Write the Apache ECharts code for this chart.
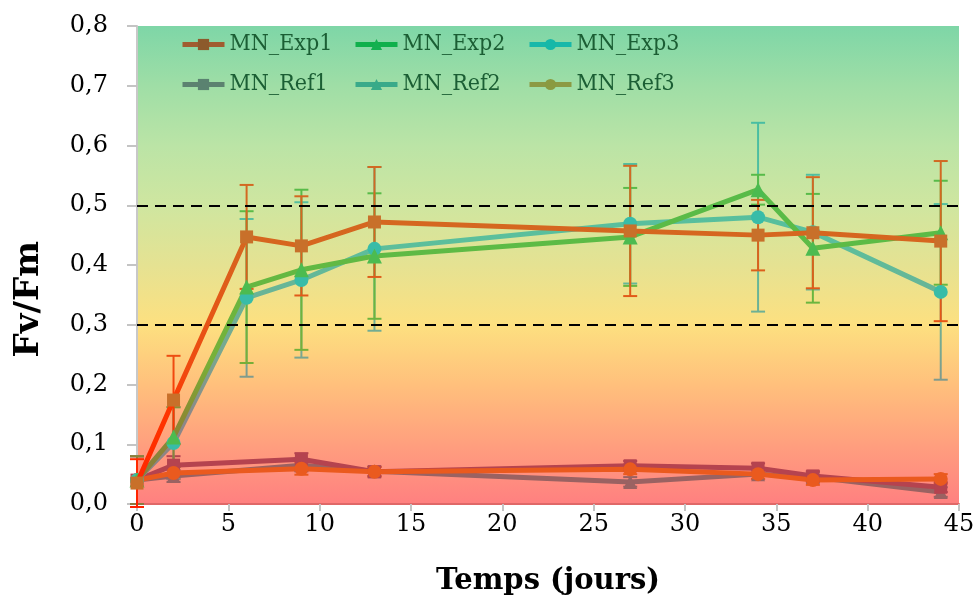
<!DOCTYPE html>
<html><head><meta charset="utf-8">
<script src="https://cdn.jsdelivr.net/npm/echarts@6/dist/echarts.min.js"></script>
<style>html,body{margin:0;padding:0;background:#fff}#c{width:979px;height:601px}</style>
</head><body><div id="c"></div>
<script>
// ---- data ----
const days = [0, 2, 6, 9, 13, 27, 34, 37, 44];
const refDays = [0, 2, 9, 13, 27, 34, 37, 44];
const exp1 = [0.035, 0.174, 0.447, 0.432, 0.472, 0.457, 0.450, 0.454, 0.440];
const exp1Err = [0.04, 0.074, 0.087, 0.083, 0.092, 0.109, 0.059, 0.093, 0.134];
const exp2 = [0.040, 0.112, 0.363, 0.392, 0.415, 0.447, 0.526, 0.428, 0.454];
const exp2Err = [0.04, 0.05, 0.127, 0.134, 0.105, 0.082, 0.025, 0.091, 0.087];
const exp3 = [0.040, 0.102, 0.345, 0.375, 0.427, 0.469, 0.480, 0.455, 0.355];
const exp3Err = [0.04, 0.06, 0.132, 0.130, 0.137, 0.100, 0.158, 0.096, 0.147];
const ref1 = [0.040, 0.065, 0.075, 0.054, 0.064, 0.060, 0.047, 0.028];
const ref1Err = [0.04, 0.015, 0.01, 0.008, 0.008, 0.008, 0.008, 0.008];
const ref2 = [0.040, 0.047, 0.065, 0.055, 0.037, 0.050, 0.045, 0.020];
const ref2Err = [0.04, 0.01, 0.01, 0.008, 0.008, 0.008, 0.008, 0.008];
const ref3 = [0.040, 0.052, 0.059, 0.054, 0.058, 0.050, 0.040, 0.042];
const ref3Err = [0.04, 0.01, 0.01, 0.008, 0.008, 0.008, 0.008, 0.008];
const yTicks = ['0,0','0,1','0,2','0,3','0,4','0,5','0,6','0,7','0,8'];
const thresholds = [0.5, 0.305];
const names = ['MN_Exp1','MN_Exp2','MN_Exp3','MN_Ref1','MN_Ref2','MN_Ref3'];
const yTitle = 'Fv/Fm';
const xTitle = 'Temps (jours)';

// ---- styling ----
function vgrad(stops){
  return {type:'linear', x:0, y:26, x2:0, y2:504, global:true,
    colorStops: stops.map(s=>({offset:s[0], color:s[1]}))};
}
const cExp1 = vgrad([[0,'#c8702a'],[0.45,'#d6661f'],[0.72,'#f04a10'],[0.8,'#ff3600'],[1,'#ff2200']]);
const cExp2 = vgrad([[0,'#4cbb50'],[0.45,'#5cbb46'],[0.7,'#78b038'],[0.82,'#8a8a32'],[1,'#8a7a40']]);
const cExp3 = vgrad([[0,'#38bca8'],[0.45,'#5bbf9c'],[0.68,'#78a890'],[0.82,'#8c8888'],[1,'#8a8080']]);
const cRef1 = '#b5434f', cRef2 = '#9a6262', cRef3 = '#ea5a1e';

const legendColors = {
  'MN_Exp1':['#8c5a2c','#a05c30'], 'MN_Exp2':['#14b050','#10b04c'], 'MN_Exp3':['#16b8a8','#18b8aa'],
  'MN_Ref1':['#5a8270','#5c8270'], 'MN_Ref2':['#38aa88','#3aaa8a'], 'MN_Ref3':['#8a9a40','#8c9a44']
};

function pairs(xs, ys){ return xs.map((x,i)=>[x, ys[i]]); }
function errData(xs, ys, es){ return xs.map((x,i)=>[x, ys[i]-es[i], ys[i]+es[i]]); }

function errSeries(xs, ys, es, color, z){
  return {
    type:'custom', silent:true, z:z, legendHoverLink:false,
    data: errData(xs, ys, es),
    renderItem: function(params, api){
      const x = api.value(0);
      const lo = api.coord([x, api.value(1)]);
      const hi = api.coord([x, api.value(2)]);
      const w = 7;
      const st = {stroke: color, lineWidth: 2};
      return {type:'group', children:[
        {type:'line', shape:{x1:lo[0], y1:lo[1], x2:hi[0], y2:hi[1]}, style:st},
        {type:'line', shape:{x1:lo[0]-w, y1:lo[1], x2:lo[0]+w, y2:lo[1]}, style:st},
        {type:'line', shape:{x1:hi[0]-w, y1:hi[1], x2:hi[0]+w, y2:hi[1]}, style:st}
      ]};
    }
  };
}

function lineSeries(name, xs, ys, color, symbol, size, z){
  return {
    name:name, type:'line', data: pairs(xs, ys), z:z,
    symbol: symbol, symbolSize: size, showAllSymbol:true,
    lineStyle:{color: color, width: 5},
    itemStyle:{color: color, opacity:1},
    emphasis:{disabled:true}
  };
}

const series = [
  errSeries(refDays, ref2, ref2Err, cRef2, 2),
  errSeries(refDays, ref1, ref1Err, cRef1, 2),
  errSeries(refDays, ref3, ref3Err, cRef3, 2),
  errSeries(days, exp3, exp3Err, cExp3, 2),
  errSeries(days, exp2, exp2Err, cExp2, 2),
  errSeries(days, exp1, exp1Err, cExp1, 2),
  lineSeries('MN_Ref2', refDays, ref2, cRef2, 'triangle', 14, 3),
  lineSeries('MN_Ref1', refDays, ref1, cRef1, 'rect', 13, 3),
  lineSeries('MN_Ref3', refDays, ref3, cRef3, 'circle', 14, 3),
  lineSeries('MN_Exp3', days, exp3, cExp3, 'circle', 14, 4),
  lineSeries('MN_Exp2', days, exp2, cExp2, 'triangle', 15, 4),
  lineSeries('MN_Exp1', days, exp1, cExp1, 'rect', 13, 5)
];
series.push({
  type:'line', data:[], silent:true, z:6,
  markLine:{silent:true, symbol:['none','none'], label:{show:false},
    lineStyle:{color:'#000', type:[11,7], width:2},
    data: thresholds.map(v=>({yAxis:v}))}
});

const legendPos = [[180,33],[353,33],[527,33],[180,73],[353,73],[527,73]];
const legends = names.map((n,i)=>({
  left: legendPos[i][0], top: legendPos[i][1], itemWidth: 42, itemHeight: 14, itemGap: 4,
  selectedMode:false, padding:0,
  data:[{name:n, itemStyle:{color: legendColors[n][0]}, lineStyle:{color: legendColors[n][1], width:5}}],
  textStyle:{fontFamily:'DejaVu Serif Condensed, DejaVu Serif', fontSize:23, color:'#1b5e34', padding:[0,0,0,0]}
}));

const chart = echarts.init(document.getElementById('c'), null, {renderer:'canvas'});
chart.setOption({
  animation:false,
  backgroundColor:'#ffffff',
  legend: legends,
  grid:{left:137, right:20, top:26, bottom:97, show:true, borderWidth:0,
    backgroundColor:{type:'linear', x:0, y:0, x2:0, y2:1, colorStops:[
      {offset:0, color:'#7ed6a7'},
      {offset:0.125, color:'#9fdea6'},
      {offset:0.25, color:'#bbe4a6'},
      {offset:0.375, color:'#cfe6a0'},
      {offset:0.5, color:'#e5e292'},
      {offset:0.625, color:'#fde080'},
      {offset:0.75, color:'#ffc07c'},
      {offset:0.875, color:'#ff9f7e'},
      {offset:1, color:'#ff8080'}
    ]}},
  graphic:[
    {type:'text', left:12, top:241, rotation:Math.PI/2, originX:0, originY:0,
     style:{text:yTitle, font:'bold 34px "DejaVu Serif"', fill:'#000', align:'center', verticalAlign:'top'}}
  ],
  xAxis:{type:'value', min:0, max:45, interval:5,
    name:xTitle, nameLocation:'middle', nameGap:63,
    nameTextStyle:{fontFamily:'DejaVu Serif', fontWeight:'bold', fontSize:29, color:'#000'},
    axisLine:{show:true, onZero:false, lineStyle:{color:'#e06868', width:2}},
    axisTick:{show:true, length:7, lineStyle:{color:'#c4c4c4', width:2}},
    axisLabel:{fontFamily:'DejaVu Serif', fontSize:24, color:'#000', margin:9},
    splitLine:{show:false}},
  yAxis:{type:'value', min:0, max:0.8, interval:0.1,
    axisLine:{show:true, lineStyle:{color:'#c8c8c8', width:2}},
    axisTick:{show:true, length:10, lineStyle:{color:'#c4c4c4', width:2}},
    axisLabel:{fontFamily:'DejaVu Serif', fontSize:24, color:'#000', margin:29,
      formatter:function(v){ const i = Math.round(v*10); return yTicks[i]; }},
    splitLine:{show:false}},
  series: series
});
</script></body></html>
